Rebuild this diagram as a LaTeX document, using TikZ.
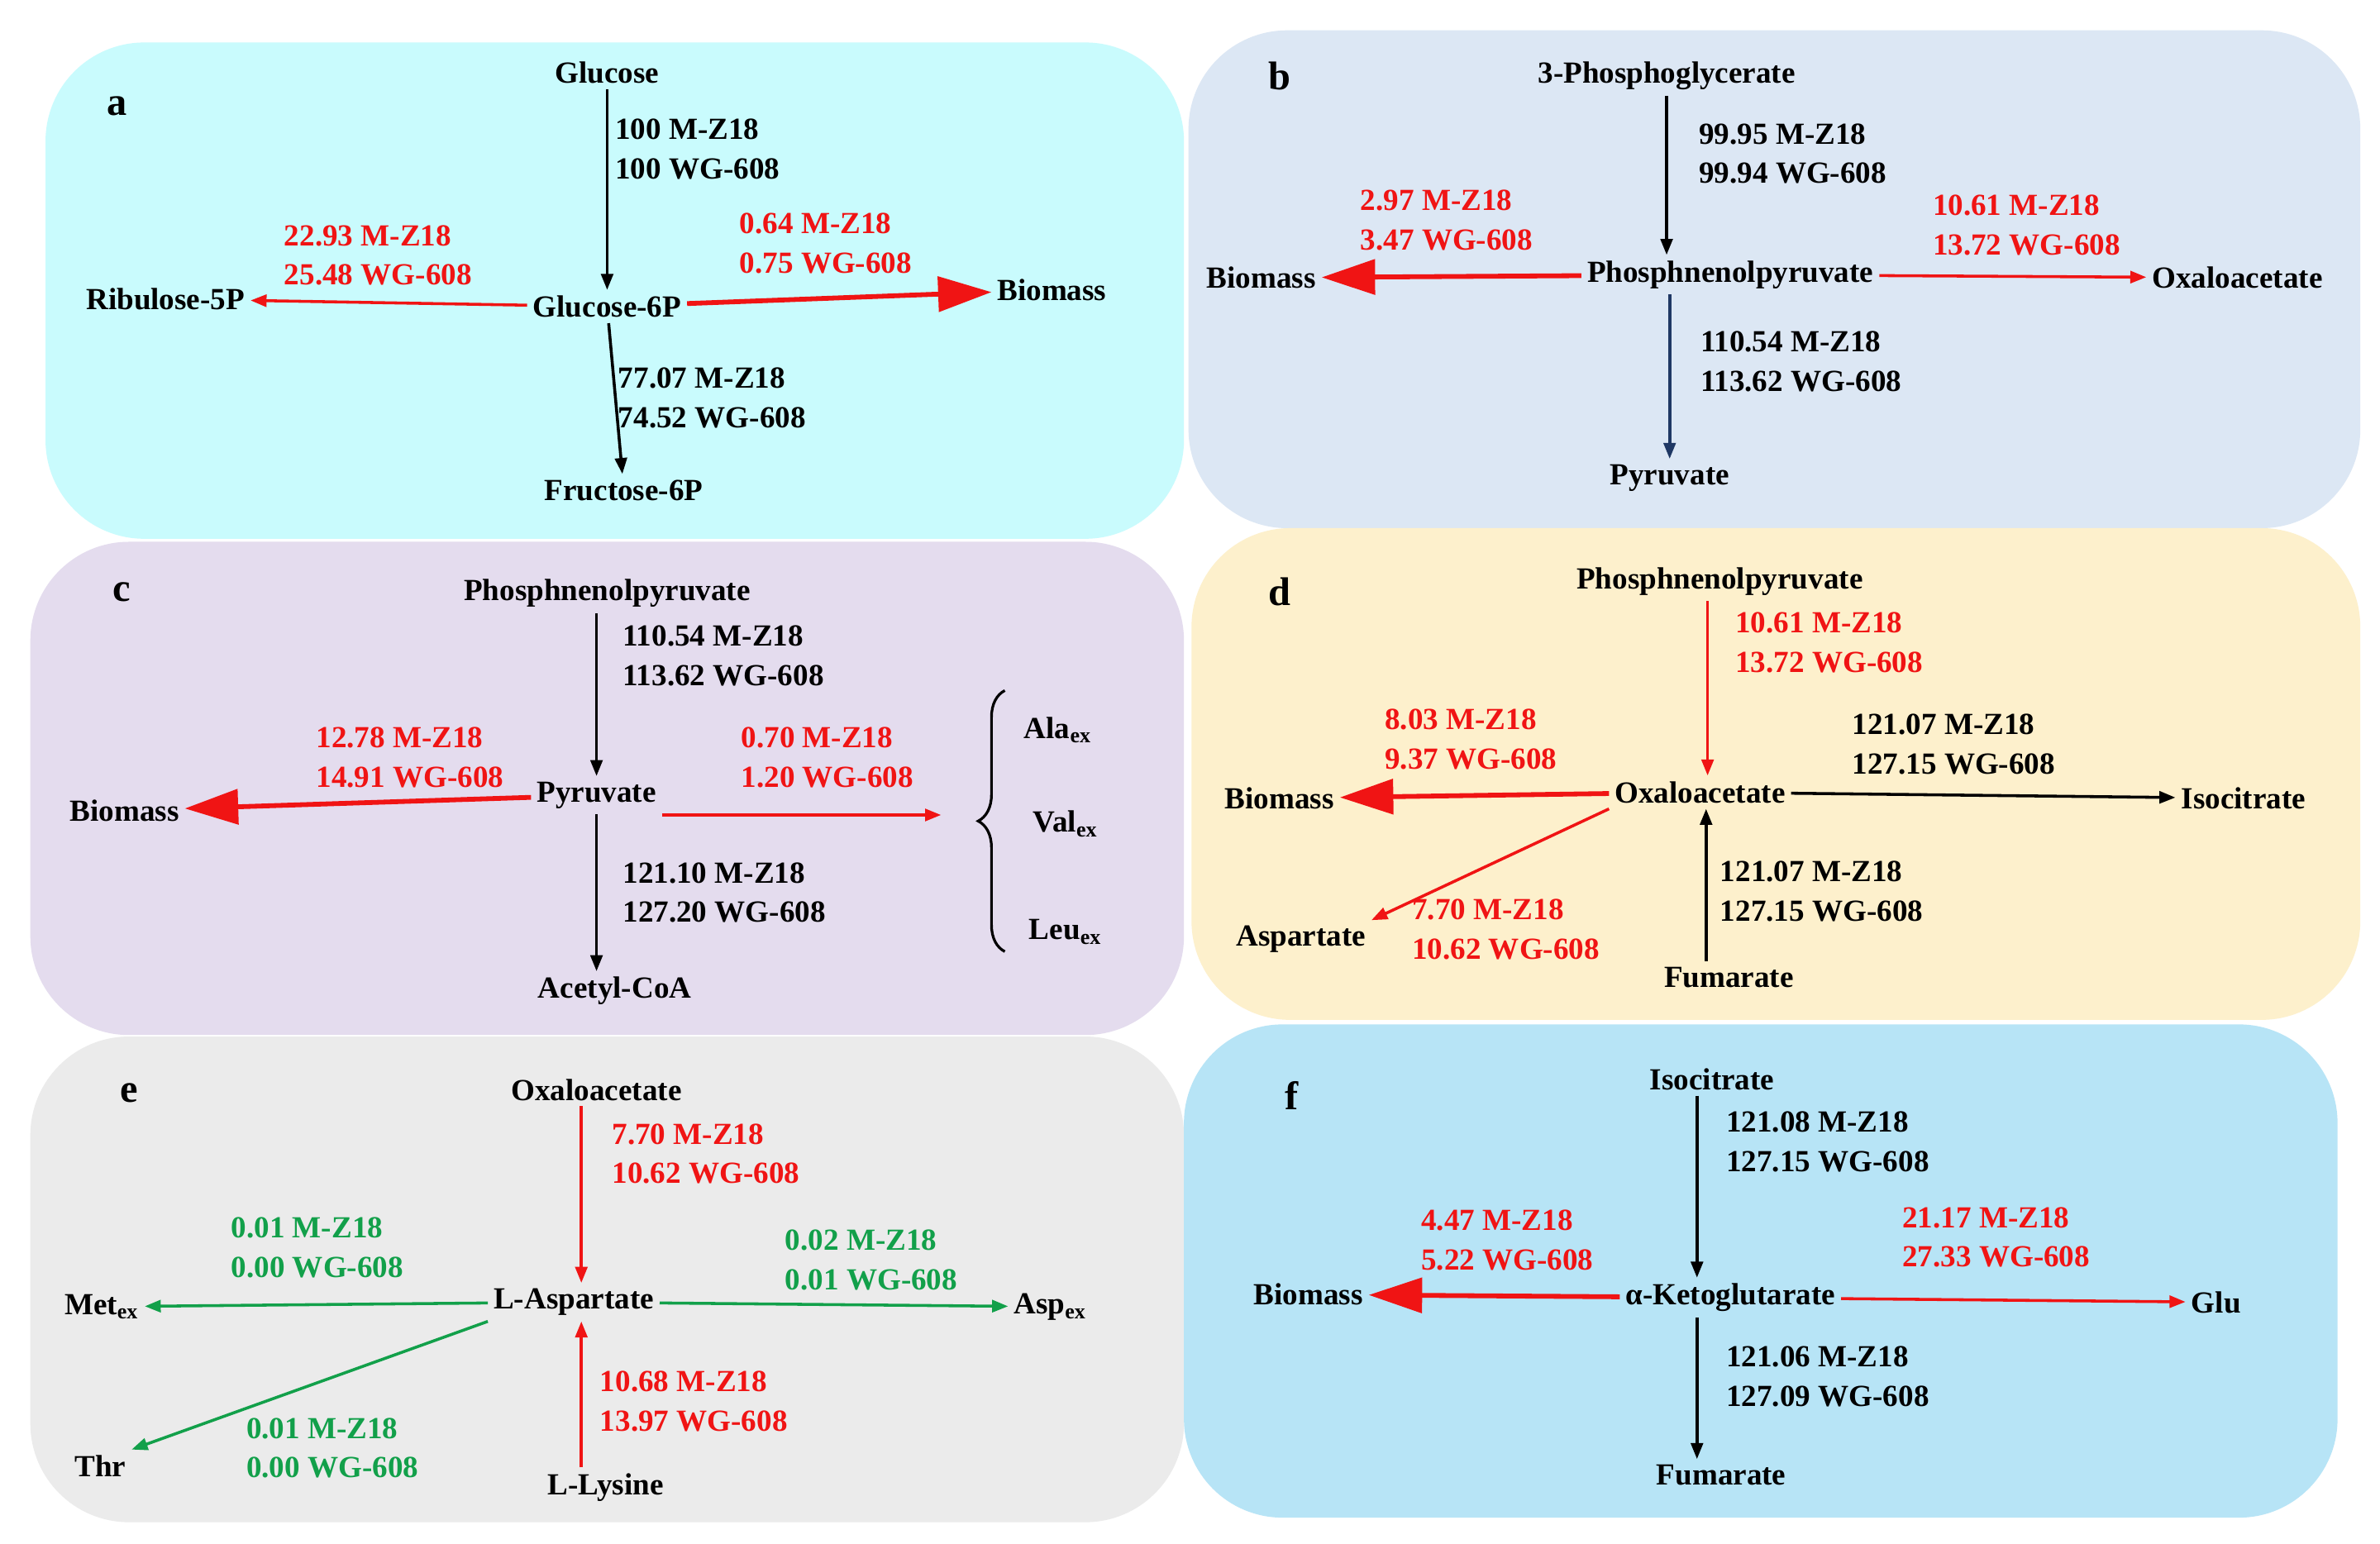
\documentclass[tikz,border=0pt]{standalone}
\usepackage{fontspec}
\setmainfont{Liberation Serif}
\usetikzlibrary{arrows.meta,decorations.pathreplacing}
\definecolor{rd}{HTML}{F01414}
\definecolor{gn}{HTML}{12A04A}
\definecolor{nv}{HTML}{1F3864}
\definecolor{pa}{HTML}{C9FBFD}
\definecolor{pb}{HTML}{DCE7F4}
\definecolor{pc}{HTML}{E4DCEE}
\definecolor{pd}{HTML}{FDF0CC}
\definecolor{pe}{HTML}{EBEBEB}
\definecolor{pf}{HTML}{B7E4F6}
\begin{document}
\begin{tikzpicture}[x=0.02cm,y=-0.02cm,
 every node/.style={font=\bfseries\fontsize{11.5}{14.8}\selectfont,inner sep=2pt},
 panel/.style={rounded corners=1.3cm},
 lab/.style={font=\bfseries\fontsize{15}{18}\selectfont},
 val/.style={anchor=north west,align=left,inner sep=0pt},
 ba/.style={-{Triangle[length=6pt,width=4.5pt]},line width=1.1pt},
 ra/.style={ba,rd},
 rt/.style={rd,line width=1.8pt,-{Triangle[length=20pt,width=13pt]}},
 ga/.style={ba,gn}]
\useasboundingbox (0,0) rectangle (1568,1017);
\fill[white] (0,0) rectangle (1568,1017);
% panels
\fill[panel,pa] (30,28) rectangle (780,355);
\fill[panel,pb] (783,20) rectangle (1555,348);
\fill[panel,pc] (20,357) rectangle (780,682);
\fill[panel,pd] (785,348) rectangle (1555,672);
\fill[panel,pe] (20,683) rectangle (780,1003);
\fill[panel,pf] (780,675) rectangle (1540,1000);
\coordinate (x1098) at (1098,0);
\coordinate (x1125) at (1125,0);
\coordinate (x1124) at (1124,0);
\coordinate (x383) at (383,0);
\coordinate (x1118) at (1118,0);
% ---- a
\node[lab] (la) at (77,70) {a};
\node (glc) at (400,48) {Glucose};
\node (g6p) at (400,202) {Glucose-6P};
\node (rib) at (109,197) {Ribulose-5P};
\node (bma) at (693,191) {Biomass};
\node (f6p) at (411,323) {Fructose-6P};
\draw[ba] (glc) -- (g6p);
\draw[ba] (g6p) -- (f6p);
\draw[ra] (g6p) -- (rib);
\draw[rt] (g6p) -- (bma);
\node[val] (va1) at (405,78) {100 M-Z18\\100 WG-608};
\node[val,rd] (va2) at (187,148) {22.93 M-Z18\\25.48 WG-608};
\node[val,rd] (va3) at (487,140) {0.64 M-Z18\\0.75 WG-608};
\node[val] (va4) at (407,242) {77.07 M-Z18\\74.52 WG-608};
% ---- b
\node[lab] (lb) at (843,50) {b};
\node (pgb) at (1098,50) {3-Phosphoglycerate};
\node (pepb) at (1140,181) {Phosphnenolpyruvate};
\node (bmb) at (831,183) {Biomass};
\node (oab) at (1474,183) {Oxaloacetate};
\node (pyb) at (1100,315) {Pyruvate};
\draw[ba] (pgb.south -| x1098) -- (pepb.north -| x1098);
\draw[rt] (pepb) -- (bmb);
\draw[ra] (pepb) -- (oab);
\draw[ba,nv] (pepb.south -| pyb) -- (pyb);
\node[val] (vb1) at (1119,81) {99.95 M-Z18\\99.94 WG-608};
\node[val,rd] (vb2) at (896,125) {2.97 M-Z18\\3.47 WG-608};
\node[val,rd] (vb3) at (1273,128) {10.61 M-Z18\\13.72 WG-608};
\node[val] (vb4) at (1120,218) {110.54 M-Z18\\113.62 WG-608};
% ---- c
\node[lab] (lc) at (80,390) {c};
\node (pepc) at (400,391) {Phosphnenolpyruvate};
\node (pyc) at (393,524) {Pyruvate};
\node (bmc) at (82,534) {Biomass};
\node (acc) at (405,653) {Acetyl-CoA};
\node (ala) at (697,481) {Ala\textsubscript{ex}};
\node (val) at (702,543) {Val\textsubscript{ex}};
\node (leu) at (702,614) {Leu\textsubscript{ex}};
\coordinate (bb) at (662,627);
\coordinate (bt) at (662,455);
\coordinate (bm) at (620,537);
\draw[line width=1pt,decorate,decoration={brace,amplitude=10pt}] (bb) -- (bt);
\draw[ba] (pepc.south -| pyc) -- (pyc);
\draw[ba] (pyc) -- (acc.north -| pyc);
\draw[rt] (pyc) -- (bmc);
\draw[ra] (pyc.east |- bm) -- (bm);
\node[val] (vc1) at (410,412) {110.54 M-Z18\\113.62 WG-608};
\node[val,rd] (vc2) at (208,479) {12.78 M-Z18\\14.91 WG-608};
\node[val,rd] (vc3) at (488,479) {0.70 M-Z18\\1.20 WG-608};
\node[val] (vc4) at (410,568) {121.10 M-Z18\\127.20 WG-608};
% ---- d
\node[lab] (ld) at (843,390) {d};
\node (pepd) at (1133,383) {Phosphnenolpyruvate};
\node (oad) at (1120,522) {Oxaloacetate};
\node (bmd) at (843,526) {Biomass};
\node (isd) at (1478,526) {Isocitrate};
\node (asd) at (857,619) {Aspartate};
\node (fud) at (1139,644) {Fumarate};
\draw[ra] (pepd.south -| x1125) -- (oad.north -| x1125);
\draw[rt] (oad) -- (bmd);
\draw[ba] (oad) -- (isd);
\draw[ra] (oad.south west) -- (asd.north east);
\draw[ba] (fud.north -| x1124) -- (oad.south -| x1124);
\node[val,rd] (vd1) at (1143,403) {10.61 M-Z18\\13.72 WG-608};
\node[val,rd] (vd2) at (912,467) {8.03 M-Z18\\9.37 WG-608};
\node[val] (vd3) at (1220,470) {121.07 M-Z18\\127.15 WG-608};
\node[val,rd] (vd4) at (930,592) {7.70 M-Z18\\10.62 WG-608};
\node[val] (vd5) at (1133,567) {121.07 M-Z18\\127.15 WG-608};
% ---- e
\node[lab] (le) at (85,720) {e};
\node (oae) at (393,718) {Oxaloacetate};
\node (lae) at (378,858) {L-Aspartate};
\node (mee) at (67,861) {Met\textsubscript{ex}};
\node (ase) at (692,861) {Asp\textsubscript{ex}};
\node (the) at (66,966) {Thr};
\node (lye) at (399,980) {L-Lysine};
\draw[ra] (oae.south -| x383) -- (lae.north -| x383);
\draw[ga] (lae) -- (mee);
\draw[ga] (lae) -- (ase);
\draw[ga] (lae.south west) -- (the.north east);
\draw[ra] (lye.north -| x383) -- (lae.south -| x383);
\node[val,rd] (ve1) at (403,740) {7.70 M-Z18\\10.62 WG-608};
\node[val,gn] (ve2) at (152,802) {0.01 M-Z18\\0.00 WG-608};
\node[val,gn] (ve3) at (517,810) {0.02 M-Z18\\0.01 WG-608};
\node[val,gn] (ve4) at (162,934) {0.01 M-Z18\\0.00 WG-608};
\node[val,rd] (ve5) at (395,903) {10.68 M-Z18\\13.97 WG-608};
% ---- f
\node[lab] (lf) at (851,722) {f};
\node (isf) at (1128,711) {Isocitrate};
\node (akf) at (1140,855) {α-Ketoglutarate};
\node (bmf) at (862,853) {Biomass};
\node (glf) at (1460,858) {Glu};
\node (fuf) at (1134,972) {Fumarate};
\draw[ba] (isf.south -| x1118) -- (akf.north -| x1118);
\draw[ba] (akf.south -| x1118) -- (fuf.north -| x1118);
\draw[rt] (akf) -- (bmf);
\draw[ra] (akf) -- (glf);
\node[val] (vf1) at (1137,732) {121.08 M-Z18\\127.15 WG-608};
\node[val,rd] (vf2) at (936,797) {4.47 M-Z18\\5.22 WG-608};
\node[val,rd] (vf3) at (1253,795) {21.17 M-Z18\\27.33 WG-608};
\node[val] (vf4) at (1137,887) {121.06 M-Z18\\127.09 WG-608};
\end{tikzpicture}
\end{document}
